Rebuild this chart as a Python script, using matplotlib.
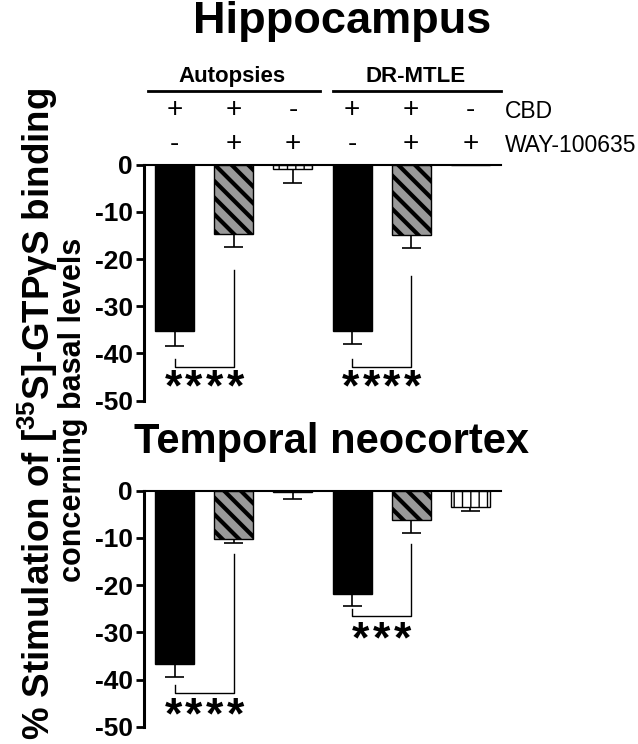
import numpy as np
import matplotlib
matplotlib.use('Agg')
import matplotlib.pyplot as plt
import matplotlib.transforms as mtransforms

plt.rcParams['font.family'] = ['Liberation Sans', 'DejaVu Sans']
plt.rcParams['mathtext.fontset'] = 'custom'
plt.rcParams['mathtext.rm'] = 'Liberation Sans:bold'
plt.rcParams['mathtext.default'] = 'rm'
plt.rcParams['axes.unicode_minus'] = False

# data
groups = ['Autopsies', 'DR-MTLE']
cbd = ['+', '+', '-', '+', '+', '-']
way = ['-', '+', '+', '-', '+', '+']
hippo_mean = [-35.2, -14.8, -0.85, -35.2, -14.9, 0.0]
hippo_err = [3.3, 2.6, 2.95, 2.8, 2.8, 0.0]
temp_mean = [-36.7, -10.2, -0.35, -21.8, -6.2, -3.4]
temp_err = [2.7, 0.9, 1.35, 2.6, 2.8, 0.9]
# significance: (bar a, bar b, y left start, y line, y right start, stars y, label)
hippo_sig = [(0, 1, -41.3, -42.9, -22.3, -45.6, '****'),
             (3, 4, -41.2, -42.9, -23.7, -45.6, '****')]
temp_sig = [(0, 1, -41.2, -42.9, -13.5, -46.0, '****'),
            (3, 4, -25.1, -26.6, -11.3, -29.9, '***')]

x = np.arange(6)
W, H = 638, 744
fig = plt.figure(figsize=(W / 100, H / 100), dpi=100)

ax_left = 144 / W
ax_w = (501 - 144) / W
ax1 = fig.add_axes([ax_left, 1 - 400.5 / H, ax_w, 235.8 / H])
ax2 = fig.add_axes([ax_left, 1 - 726.7 / H, ax_w, 236.0 / H])

styles = [('black', None, 1.0), ('#999999', '\\\\', 3.0), ('white', '||', 1.0)] * 2
star_pitch = 0.35


def panel(ax, mean, err, sig):
    for i in range(6):
        fc, hatch, hlw = styles[i]
        plt.rcParams['hatch.linewidth'] = hlw
        ax.bar(x[i], mean[i], 0.66, color=fc, edgecolor='black',
               linewidth=1.0, hatch=hatch, zorder=2)
    m = np.array(mean)
    e = np.array(err)
    keep = e > 0
    ax.vlines(x[keep], m[keep], m[keep] - e[keep], color='black', lw=1.2, zorder=1)
    ax.hlines(m[keep] - e[keep], x[keep] - 0.16, x[keep] + 0.16,
              color='black', lw=1.2, zorder=3)
    for a, b, yl, y, yr, ys, lab in sig:
        ax.plot([x[a], x[a], x[b], x[b]], [yl, y, y, yr], color='black', lw=1.0)
        n = len(lab)
        for k in range(n):
            sx = (x[a] + x[b]) / 2 + (k - (n - 1) / 2) * star_pitch
            ax.annotate('*', (sx, ys), xytext=(0, -15), textcoords='offset points',
                        ha='center', va='baseline', fontsize=32, fontweight='bold')
    ax.set_xlim(-0.52, 5.52)
    ax.set_ylim(-50, 0)
    ax.set_yticks([0, -10, -20, -30, -40, -50])
    ax.set_xticks([])
    ax.spines['right'].set_visible(False)
    ax.spines['bottom'].set_visible(False)
    ax.spines['left'].set_linewidth(2.2)
    ax.spines['top'].set_linewidth(1.5)
    ax.tick_params(axis='y', length=6, width=2, labelsize=19, pad=2)
    for t in ax.get_yticklabels():
        t.set_fontweight('bold')
    ax.set_facecolor('none')


panel(ax1, hippo_mean, hippo_err, hippo_sig)
panel(ax2, temp_mean, temp_err, temp_sig)

# titles
fig.text(342 / W, 1 - 33 / H, 'Hippocampus', ha='center', va='baseline',
         fontsize=32.5, fontweight='bold')
fig.text(331 / W, 1 - 453 / H, 'Temporal neocortex', ha='center', va='baseline',
         fontsize=30, fontweight='bold')

# header for treatments
tr = mtransforms.blended_transform_factory(ax1.transData, fig.transFigure)
spans = [(-0.45, 2.45), (2.68, 5.52)]
for g, (a, b) in zip(groups, spans):
    ax1.plot([a, b], [1 - 90.7 / H] * 2, color='black', lw=2, transform=tr,
             clip_on=False)
    ax1.text((a + b) / 2 - 0.03, 1 - 82 / H, g, transform=tr, ha='center',
             va='baseline', fontsize=16, fontweight='bold')
for i in range(6):
    ax1.text(x[i], 1 - 110 / H, cbd[i], transform=tr, ha='center', va='center',
             fontsize=20)
    ax1.text(x[i], 1 - 144 / H, way[i], transform=tr, ha='center', va='center',
             fontsize=20)
fig.text(505 / W, 1 - 112 / H, 'CBD', ha='left', va='center', fontsize=16.5)
fig.text(505 / W, 1 - 145 / H, 'WAY-100635', ha='left', va='center', fontsize=16.5)

# y label, two lines
fig.text(38 / W, 1 - 414 / H, '% Stimulation of [$^{35}$S]-GTP\u03b3S binding',
         rotation=90, ha='center', va='center', fontsize=26.5, fontweight='bold')
fig.text(73 / W, 1 - 410 / H, 'concerning basal levels',
         rotation=90, ha='center', va='center', fontsize=22, fontweight='bold')

fig.savefig('out.png', dpi=100)
